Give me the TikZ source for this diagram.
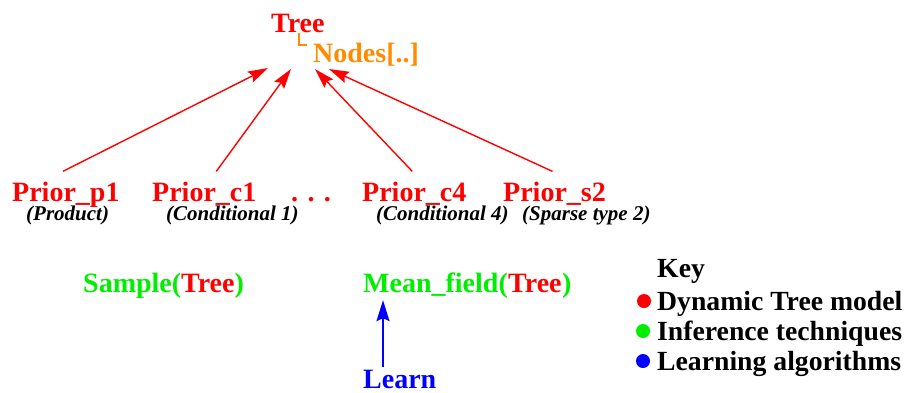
\documentclass[tikz,border=0pt]{standalone}
\usepackage{fontspec}
\setmainfont{Liberation Serif}
\usetikzlibrary{arrows.meta,calc}
\definecolor{tred}{RGB}{255,0,0}
\definecolor{tgreen}{RGB}{0,238,0}
\definecolor{tblue}{RGB}{0,0,255}
\definecolor{torange}{RGB}{255,140,0}
\tikzset{
  lbl/.style={anchor=base west,inner sep=0pt,font=\bfseries\fontsize{28}{30}\selectfont},
  sub/.style={anchor=base west,inner sep=0pt,font=\bfseries\itshape\fontsize{21}{23}\selectfont,text=black},
  keytxt/.style={anchor=base west,inner sep=0pt,font=\bfseries\fontsize{27.7}{30}\selectfont,text=black},
  arr/.style={draw=tred,line width=1.4pt,-{Stealth[length=20pt,width=12pt,inset=3pt]}},
  barr/.style={draw=tblue,line width=1.4pt,-{Stealth[length=21pt,width=13pt,inset=3pt]}},
  dot/.style={circle,inner sep=0pt,minimum size=14pt}
}
\begin{document}
\begin{tikzpicture}[x=1pt,y=-1pt]
\useasboundingbox (0,0) rectangle (907,392);

% root of the model
\node[lbl,text=tred] (tree) at (271,32) {Tree};
\node[lbl,text=torange] (nodes) at (313,62) {Nodes[..]};
\draw[torange,line width=1.2pt] (299,33) |- (307,45);

% priors
\node[lbl,text=tred] (p1) at (12,201) {Prior\_p1};
\node[lbl,text=tred] (c1) at (152,201) {Prior\_c1};
\node[lbl,text=tred] (dots) at (291,201) {.\,\,.\,\,.};
\node[lbl,text=tred] (c4) at (362,201) {Prior\_c4};
\node[lbl,text=tred] (s2) at (503,201) {Prior\_s2};

\node[sub] (p1d) at (26,220) {(Product)};
\node[sub] (c1d) at (166,220) {(Conditional 1)};
\node[sub] (c4d) at (376,220) {(Conditional 4)};
\node[sub] (s2d) at (522,220) {(Sparse type 2)};

% arrow tips under the root
\coordinate (t1) at (268,68);
\coordinate (t2) at (291,69);
\coordinate (t3) at (315,69);
\coordinate (t4) at (329,69);

\draw[arr] ($(p1.north)+(-3,-10)$) -- (t1);
\draw[arr] ($(c1.north)+(12,-10)$) -- (t2);
\draw[arr] ($(c4.north)+(-2,-10)$) -- (t3);
\draw[arr] ($(s2.north)+(-2,-10)$) -- (t4);

% inference techniques
\node[lbl,text=tgreen] (sample) at (83,292) {Sample({\color{tred}Tree})};
\node[lbl,text=tgreen] (mfa) at (363,292) {Mean\_field(};
\node[lbl,text=tred] (mfb) at (mfa.base east) {Tree};
\node[lbl,text=tgreen] (mfc) at (mfb.base east) {)};

% learning
\node[lbl,text=tblue] (learn) at (363,388) {Learn};
\draw[barr] ($(learn.north west)+(20,-2)$) -- ($(mfa.south west)+(20,2)$);

% key
\node[keytxt] (key) at (657,277) {Key};
\node[keytxt] (k1) at (657,310) {Dynamic Tree model};
\node[keytxt] (k2) at (657,340) {Inference techniques};
\node[keytxt] (k3) at (657,370) {Learning algorithms};
\node[dot,fill=tred] (b1) at (644,301) {};
\node[dot,fill=tgreen] (b2) at (643,331) {};
\node[dot,fill=tblue] (b3) at (643,361) {};
\end{tikzpicture}
\end{document}
